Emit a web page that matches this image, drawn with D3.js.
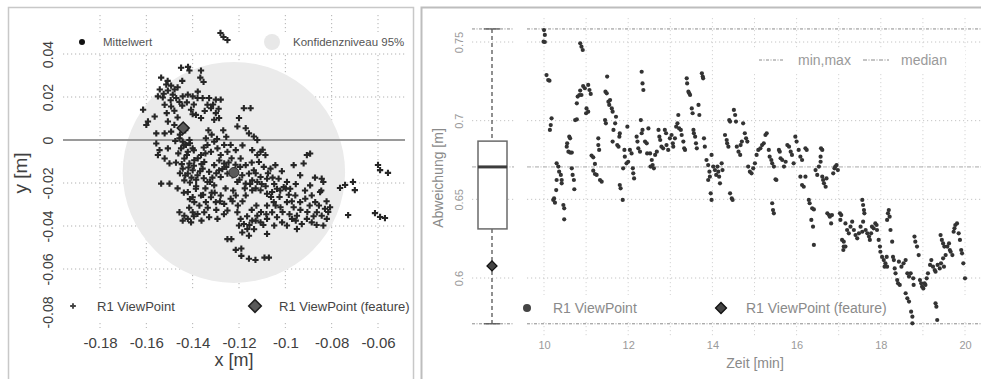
<!DOCTYPE html>
<html>
<head>
<meta charset="utf-8">
<script src="https://cdn.jsdelivr.net/npm/d3@7"></script>
<style>
  body { margin: 0; background: #fff; }
  svg { font-family: "Liberation Sans", Arial, sans-serif; }
</style>
</head>
<body>
<svg id="chart" width="981" height="379"></svg>
<script>
// ---- left panel data (x/y deviation in m) ----
const xTicksLeft = [-0.18, -0.16, -0.14, -0.12, -0.10, -0.08, -0.06];
const xLabelsLeft = ['-0.18', '-0.16', '-0.14', '-0.12', '-0.1', '-0.08', '-0.06'];
const yTicksLeft = [0.04, 0.02, 0, -0.02, -0.04, -0.06, -0.08];
const yLabelsLeft = ['0.04', '0.02', '0', '-0.02', '-0.04', '-0.06', '-0.08'];

const meanPoint = [-0.1222, -0.0151];
const ciRadius = [0.048, 0.0514]; // 95% confidence, x and y
const featurePoint = [-0.1441, 0.0056];

const viewPoints = [
  [-0.145, 0.0336], [-0.142, 0.034], [-0.1414, 0.0323], [-0.1364, 0.0323], [-0.1367, 0.029], [-0.1353, 0.027],
  [-0.1536, 0.029], [-0.1514, 0.0258], [-0.1493, 0.0253], [-0.155, 0.0203], [-0.1529, 0.0198],
  [-0.1507, 0.023], [-0.1486, 0.0211], [-0.1471, 0.0195], [-0.1521, 0.0164], [-0.1493, 0.0156], [-0.1479, 0.0136], [-0.1457, 0.0177],
  [-0.1443, 0.0203], [-0.1421, 0.0211], [-0.14, 0.0203], [-0.1379, 0.0195], [-0.1357, 0.0195], [-0.1329, 0.0195], [-0.13, 0.0188], [-0.1279, 0.0188],
  [-0.1407, 0.0141], [-0.1386, 0.0117], [-0.1364, 0.0102], [-0.14, 0.012],
  [-0.1336, 0.0164], [-0.1321, 0.0148], [-0.13, 0.0125], [-0.1286, 0.0102], [-0.1307, 0.0094],
  [-0.1614, 0.0141], [-0.1593, 0.0086], [-0.16, 0.007], [-0.1557, 0.0031], [-0.1564, 0.0109],
  [-0.1507, 0.0086], [-0.1479, 0.007], [-0.1493, 0.0039], [-0.1521, 0.0031],
  [-0.1179, 0.0148], [-0.115, 0.0148],
  [-0.12, 0.0102], [-0.1207, 0.0063], [-0.1171, 0.0055], [-0.1157, 0.0031], [-0.1136, 0.0016], [-0.1121, 0],
  [-0.1465, 0.0245], [-0.1445, 0.016], [-0.1425, 0.0175], [-0.1395, 0.0165], [-0.1348, 0.0135], [-0.1512, 0.0125],
  [-0.1465, 0.0105], [-0.1525, 0.0215], [-0.1495, 0.0185],
  [-0.1557, -0.0016], [-0.1543, -0.0047], [-0.155, -0.007], [-0.1507, -0.0039], [-0.15, -0.0109], [-0.1521, -0.0086],
  [-0.1457, 0.0008], [-0.1443, -0.0008], [-0.1429, -0.0023], [-0.1414, 0], [-0.145, -0.0039], [-0.1421, -0.0055], [-0.14, -0.0039],
  [-0.1436, -0.0086], [-0.1414, -0.0109], [-0.1393, -0.0094], [-0.1443, -0.0133], [-0.1421, -0.0156], [-0.14, -0.0141], [-0.1436, -0.0188], [-0.1379, -0.0164],
  [-0.1364, -0.007], [-0.135, -0.0102], [-0.1336, -0.0023], [-0.1321, -0.0055], [-0.1343, 0.0008], [-0.1307, -0.0008], [-0.1293, -0.0039],
  [-0.1279, -0.007], [-0.1264, -0.0023], [-0.125, -0.0055], [-0.1236, -0.0023], [-0.1214, -0.0047],
  [-0.1357, -0.0133], [-0.1329, -0.0148], [-0.1307, -0.0117], [-0.1286, -0.0141], [-0.1264, -0.0109], [-0.125, -0.0156], [-0.1279, -0.0172],
  [-0.1336, -0.0195], [-0.1307, -0.0211], [-0.1536, -0.0203], [-0.15, -0.0203],
  [-0.1438, -0.0025], [-0.1425, -0.007], [-0.1395, -0.012], [-0.1405, -0.0175], [-0.1368, -0.0145], [-0.1345, -0.0062], [-0.1285, -0.0095],
  [-0.1255, -0.0125], [-0.1232, -0.0085], [-0.1315, -0.0175], [-0.1462, -0.0062], [-0.1472, -0.0105], [-0.1455, -0.0155], [-0.1352, -0.0035],
  [-0.1228, -0.0165], [-0.1185, -0.0025],
  [-0.1143, -0.0047], [-0.1121, -0.007], [-0.1107, -0.0055], [-0.1086, -0.007], [-0.1114, -0.0102], [-0.1093, -0.0125], [-0.1064, -0.0133], [-0.1043, -0.0117],
  [-0.1193, -0.0086], [-0.1171, -0.0117], [-0.1186, -0.0164], [-0.1157, -0.0156], [-0.1136, -0.0141], [-0.1207, -0.0195], [-0.1171, -0.0203],
  [-0.1143, -0.0188], [-0.1121, -0.0195], [-0.1107, -0.0172], [-0.1079, -0.018],
  [-0.1029, -0.018], [-0.0993, -0.0195], [-0.1007, -0.0219], [-0.0979, -0.0227], [-0.1036, -0.0227], [-0.1057, -0.0242], [-0.1079, -0.025],
  [-0.1107, -0.0234], [-0.1143, -0.0234], [-0.1171, -0.0258],
  [-0.0964, -0.0117], [-0.0921, -0.0109], [-0.0907, -0.007], [-0.0893, -0.0063], [-0.0936, -0.0164],
  [-0.0957, -0.0258], [-0.0936, -0.0289], [-0.0914, -0.0273], [-0.0893, -0.0211], [-0.0886, -0.0258], [-0.0871, -0.0289],
  [-0.0843, -0.018], [-0.0836, -0.0195], [-0.085, -0.0242],
  [-0.1128, -0.0155], [-0.1085, -0.0215], [-0.1055, -0.0175], [-0.1015, -0.0145], [-0.0985, -0.0255], [-0.1025, -0.0265],
  [-0.0955, -0.0205], [-0.0915, -0.0235], [-0.0872, -0.0175], [-0.1195, -0.0125], [-0.1145, -0.0105], [-0.1098, -0.0045],
  [-0.1457, -0.0336], [-0.1436, -0.0352], [-0.1421, -0.0367], [-0.1407, -0.0383], [-0.1443, -0.0375], [-0.14, -0.0336], [-0.1379, -0.0344],
  [-0.135, -0.0336], [-0.1329, -0.0359], [-0.1293, -0.0367], [-0.125, -0.0328],
  [-0.1421, -0.0242], [-0.14, -0.0266], [-0.1386, -0.0227], [-0.1364, -0.0258], [-0.1343, -0.0289], [-0.1321, -0.0266], [-0.13, -0.0289],
  [-0.1279, -0.0258], [-0.1264, -0.0297], [-0.1236, -0.0273], [-0.1214, -0.0258], [-0.1393, -0.0289], [-0.1371, -0.0305],
  [-0.1385, -0.0215], [-0.1345, -0.0225], [-0.1305, -0.0245], [-0.1258, -0.0225], [-0.1225, -0.0235], [-0.1415, -0.0315],
  [-0.1298, -0.0325], [-0.1265, -0.0345], [-0.1335, -0.0315],
  [-0.1207, -0.0336], [-0.1193, -0.0367], [-0.12, -0.0398], [-0.1179, -0.0391], [-0.1164, -0.0414], [-0.1186, -0.043], [-0.1143, -0.0375],
  [-0.1121, -0.0352], [-0.1107, -0.0383], [-0.1079, -0.0367], [-0.1057, -0.0336], [-0.1036, -0.0359], [-0.1014, -0.0383], [-0.0993, -0.0398],
  [-0.0971, -0.0367], [-0.095, -0.0352], [-0.0929, -0.0391], [-0.0907, -0.0367], [-0.0886, -0.0383], [-0.0864, -0.0336], [-0.0843, -0.0352],
  [-0.0829, -0.032], [-0.0807, -0.0313], [-0.0821, -0.0367], [-0.0836, -0.0398],
  [-0.1079, -0.0305], [-0.105, -0.0289], [-0.1021, -0.0313], [-0.0993, -0.0289], [-0.0964, -0.0313],
  [-0.095, -0.0414], [-0.1079, -0.0437], [-0.1157, -0.0445],
  [-0.1165, -0.0355], [-0.1135, -0.0415], [-0.1095, -0.0395], [-0.1048, -0.0398], [-0.0955, -0.0375], [-0.0905, -0.0335],
  [-0.0865, -0.0395], [-0.0815, -0.0335], [-0.1125, -0.0305], [-0.1185, -0.0285], [-0.1145, -0.0325],
  [-0.1475, -0.0005], [-0.1455, 0.0025], [-0.1432, 0.0045], [-0.1412, -0.0015], [-0.1395, -0.0048], [-0.1378, -0.0085],
  [-0.1362, -0.0112], [-0.1418, -0.0128], [-0.1447, -0.0112], [-0.1432, -0.0165], [-0.1412, -0.0198], [-0.1385, -0.0185],
  [-0.1352, -0.0178], [-0.1325, -0.0195], [-0.1298, -0.0155], [-0.1272, -0.0135], [-0.1245, -0.0105], [-0.1215, -0.0115],
  [-0.1198, -0.0185], [-0.1175, -0.0225], [-0.1152, -0.0205], [-0.1128, -0.0225], [-0.1102, -0.0205], [-0.1075, -0.0155],
  [-0.1048, -0.0205], [-0.1022, -0.0235], [-0.0998, -0.0225], [-0.1062, -0.0265], [-0.1042, -0.0305], [-0.1012, -0.0335],
  [-0.0982, -0.0345], [-0.0972, -0.0285], [-0.0935, -0.0325], [-0.0895, -0.0305], [-0.0878, -0.0355], [-0.0855, -0.0305],
  [-0.0822, -0.0285], [-0.0845, -0.0235], [-0.1105, -0.0335], [-0.1082, -0.0345], [-0.1155, -0.0395], [-0.1128, -0.0375],
  [-0.1205, -0.0305], [-0.1228, -0.0285], [-0.1282, -0.0285], [-0.1318, -0.0245], [-0.1355, -0.0255], [-0.1412, -0.0275],
  [-0.1395, -0.0355], [-0.1362, -0.0375], [-0.1438, -0.0245], [-0.1465, -0.0225], [-0.1332, 0.0045], [-0.1318, 0.0025],
  [-0.1295, 0.0005], [-0.1268, 0.0045], [-0.1255, 0.0015], [-0.1312, 0.0165], [-0.1288, 0.0145], [-0.1378, 0.0225],
  [-0.1445, 0.0275], [-0.1508, 0.0275], [-0.1542, 0.0235], [-0.1478, 0.0235],
  [-0.125, -0.0461], [-0.1233, -0.0461], [-0.1214, -0.0511], [-0.119, -0.0505], [-0.119, -0.0539], [-0.1157, -0.0552],
  [-0.1129, -0.0558], [-0.109, -0.0547], [-0.1071, -0.0547],
  [-0.06, -0.0116], [-0.0591, -0.014], [-0.0557, -0.0153], [-0.0613, -0.034], [-0.0591, -0.0358], [-0.057, -0.0363],
  [-0.0729, -0.0349], [-0.0764, -0.0223], [-0.0742, -0.0209], [-0.0708, -0.0195], [-0.07, -0.0233],
  [-0.128, 0.0498], [-0.1267, 0.0479], [-0.125, 0.0465]
];

// ---- right panel data (deviation over time) ----
const xTicksRight = [10, 12, 14, 16, 18, 20];
const xGridRight = [10, 11, 12, 13, 14, 15, 16, 17, 18, 19, 20];
const yTicksRight = [0.75, 0.7, 0.65, 0.6];
const yLabelsRight = ['0.75', '0.7', '0.65', '0.6'];
const boxStats = [0.5709, 0.6312, 0.6706, 0.687, 0.7583]; // min, q1, median, q3, max
const featureValue = 0.6077;

const zeitPoints = [
  [10.0, 0.7576], [10.02, 0.7545], [9.99, 0.7502], [10.02, 0.75],
  [10.06, 0.729], [10.1, 0.7258], [10.13, 0.7254], [10.18, 0.7015], [10.16, 0.6972], [10.14, 0.6941],
  [10.3, 0.6729], [10.34, 0.6708], [10.36, 0.6676], [10.4, 0.6655], [10.42, 0.6623], [10.3, 0.6623], [10.42, 0.6602],
  [10.22, 0.6496], [10.26, 0.6479], [10.24, 0.6506], [10.29, 0.6559], [10.46, 0.6464], [10.48, 0.6443], [10.48, 0.6373],
  [10.54, 0.6835], [10.58, 0.6803], [10.62, 0.6797], [10.66, 0.6797], [10.55, 0.6856], [10.6, 0.6898], [10.62, 0.6888],
  [10.66, 0.6697], [10.68, 0.6655], [10.71, 0.6623], [10.72, 0.6564], [10.74, 0.7004], [10.78, 0.7008],
  [10.78, 0.711], [10.8, 0.7153], [10.84, 0.7163], [10.86, 0.7191], [10.93, 0.722], [10.97, 0.7206], [10.89, 0.7163],
  [11.05, 0.7227], [11.08, 0.7195], [11.11, 0.717], [10.86, 0.7492], [10.89, 0.747], [10.92, 0.7449],
  [11.01, 0.7078], [11.0, 0.7047], [11.05, 0.7057],
  [11.13, 0.6778], [11.17, 0.6767], [11.21, 0.6725], [11.17, 0.6682], [11.21, 0.6661], [11.25, 0.6655], [11.33, 0.6623], [11.37, 0.6612],
  [11.29, 0.6888], [11.29, 0.6845], [11.31, 0.6814],
  [11.45, 0.7004], [11.47, 0.6983], [11.5, 0.728], [11.46, 0.7184], [11.49, 0.7174],
  [11.53, 0.7121], [11.55, 0.71], [11.57, 0.7131], [11.61, 0.7078], [11.63, 0.7057],
  [11.65, 0.6941], [11.69, 0.6983], [11.71, 0.7025], [11.63, 0.6867],
  [11.74, 0.6845], [11.77, 0.6835], [11.79, 0.6898], [11.8, 0.6919], [11.8, 0.6591], [11.82, 0.657], [11.87, 0.6496],
  [11.88, 0.6697], [11.92, 0.6771], [11.96, 0.6729], [11.91, 0.6814], [11.98, 0.6962],
  [12.0, 0.6739], [12.04, 0.6814], [12.08, 0.6792], [12.11, 0.6697], [12.12, 0.6665], [12.14, 0.6633],
  [12.2, 0.6898], [12.22, 0.6867], [12.24, 0.6824], [12.28, 0.6803],
  [12.32, 0.7311], [12.34, 0.7237], [12.36, 0.7195], [12.3, 0.7004], [12.34, 0.6941], [12.32, 0.692],
  [12.4, 0.6867], [12.44, 0.6856], [12.45, 0.6792], [12.48, 0.6951],
  [12.52, 0.6792], [12.56, 0.675], [12.58, 0.6718], [12.61, 0.6697], [12.53, 0.6708],
  [12.64, 0.6782], [12.68, 0.6803], [12.72, 0.6941], [12.74, 0.6898], [12.76, 0.6877],
  [12.79, 0.6835], [12.83, 0.6824], [12.87, 0.6941], [12.9, 0.692], [12.91, 0.6845],
  [12.95, 0.6814], [12.99, 0.6888], [13.03, 0.6909], [13.06, 0.6856], [13.07, 0.6835],
  [13.11, 0.6888], [13.14, 0.6962], [13.17, 0.6983], [13.19, 0.7036], [13.21, 0.6951], [13.25, 0.6941],
  [13.27, 0.6909], [13.31, 0.6867], [13.33, 0.6824], [13.35, 0.6814],
  [13.39, 0.7269], [13.4, 0.7237], [13.43, 0.7184], [13.45, 0.7174], [13.47, 0.7163],
  [13.51, 0.7078], [13.53, 0.7047], [13.55, 0.6941], [13.56, 0.692],
  [13.59, 0.6898], [13.61, 0.6856], [13.63, 0.6824], [13.67, 0.71], [13.69, 0.7036],
  [13.75, 0.7301], [13.77, 0.728], [13.78, 0.7269], [13.8, 0.6888], [13.82, 0.6835],
  [13.86, 0.675], [13.9, 0.6718], [13.93, 0.6676], [13.94, 0.6644], [13.9, 0.6623], [13.96, 0.6538], [13.98, 0.6496],
  [13.98, 0.6782], [14.02, 0.6708], [14.06, 0.6686], [14.09, 0.6655], [14.12, 0.6708], [14.14, 0.6676], [14.16, 0.6644], [14.18, 0.6602],
  [14.22, 0.6729], [14.24, 0.6686],
  [14.3, 0.6909], [14.34, 0.6877], [14.35, 0.6856], [14.38, 0.6835], [14.4, 0.7004], [14.42, 0.6994],
  [14.42, 0.6538], [14.46, 0.6506], [14.48, 0.6496],
  [14.51, 0.7068], [14.54, 0.7036], [14.56, 0.6994], [14.58, 0.6835], [14.62, 0.6803], [14.66, 0.6782], [14.67, 0.6845], [14.7, 0.6867],
  [14.73, 0.6983], [14.77, 0.692], [14.8, 0.6888], [14.83, 0.6867],
  [14.85, 0.6708], [14.89, 0.6676], [14.93, 0.6665], [14.97, 0.6697], [15.01, 0.6729], [15.05, 0.6782], [15.09, 0.6814],
  [15.14, 0.6824], [15.18, 0.6845], [15.22, 0.6856], [15.26, 0.6909], [15.29, 0.692],
  [15.34, 0.6814], [15.36, 0.6771], [15.4, 0.675], [15.42, 0.6729], [15.46, 0.6708], [15.5, 0.6627], [15.52, 0.6623],
  [15.42, 0.6475], [15.44, 0.6432], [15.46, 0.6411],
  [15.58, 0.6814], [15.6, 0.6803], [15.62, 0.6761], [15.66, 0.675], [15.7, 0.6708], [15.74, 0.6739], [15.78, 0.6845], [15.82, 0.6835], [15.86, 0.6803],
  [15.89, 0.6782], [15.93, 0.6729], [15.97, 0.6898], [16.0, 0.6867], [16.05, 0.6814], [16.09, 0.6771], [16.13, 0.675],
  [16.09, 0.6644], [16.13, 0.6591], [16.17, 0.658], [16.21, 0.6644], [16.21, 0.6824], [16.24, 0.6814],
  [16.29, 0.6496], [16.31, 0.6475], [16.37, 0.6443], [16.41, 0.6436], [16.35, 0.6369], [16.39, 0.6326], [16.41, 0.621],
  [16.45, 0.6686], [16.49, 0.6655], [16.53, 0.6708], [16.57, 0.6739], [16.58, 0.6824], [16.61, 0.6814], [16.57, 0.6771],
  [16.61, 0.6644], [16.63, 0.6623], [16.65, 0.6602], [16.69, 0.658], [16.71, 0.6633],
  [16.73, 0.6411], [16.77, 0.64], [16.79, 0.639], [16.82, 0.6347], [16.84, 0.64],
  [16.87, 0.6665], [16.9, 0.6697], [16.92, 0.6708], [16.95, 0.6718], [16.98, 0.6686],
  [17.03, 0.6411], [17.06, 0.64], [17.04, 0.6369],
  [17.08, 0.6242], [17.12, 0.6231], [17.12, 0.62], [17.16, 0.62], [17.11, 0.6178],
  [17.16, 0.6347], [17.2, 0.6305], [17.24, 0.6284], [17.28, 0.6326], [17.32, 0.6358],
  [17.36, 0.6305], [17.4, 0.6273], [17.44, 0.6252], [17.48, 0.6284], [17.52, 0.6326], [17.56, 0.6294], [17.58, 0.6358],
  [17.56, 0.6496], [17.58, 0.6464], [17.6, 0.6432], [17.61, 0.6411],
  [17.64, 0.6305], [17.68, 0.6284], [17.72, 0.6263], [17.74, 0.6242], [17.77, 0.6284], [17.79, 0.6326], [17.83, 0.6316], [17.87, 0.6347], [17.9, 0.6337],
  [17.91, 0.6305], [17.95, 0.6242], [17.98, 0.62], [17.99, 0.6167],
  [18.03, 0.6134], [18.07, 0.6114], [18.09, 0.6072], [18.11, 0.6093], [18.14, 0.6134], [18.15, 0.6072],
  [18.15, 0.6369], [18.17, 0.6411], [18.19, 0.6432], [18.21, 0.639], [18.23, 0.6305], [18.27, 0.6231],
  [18.29, 0.6134], [18.31, 0.6114], [18.33, 0.6061], [18.35, 0.603], [18.39, 0.5987], [18.41, 0.5966], [18.45, 0.5956],
  [18.43, 0.6104], [18.49, 0.6072], [18.54, 0.6093], [18.59, 0.6114], [18.63, 0.603], [18.67, 0.6009],
  [18.59, 0.5903], [18.63, 0.5871], [18.67, 0.585], [18.72, 0.5786], [18.75, 0.5754], [18.75, 0.5712],
  [18.71, 0.603], [18.77, 0.5998], [18.78, 0.5956],
  [18.8, 0.6263], [18.82, 0.6231], [18.86, 0.62], [18.9, 0.6146],
  [18.93, 0.5987], [18.96, 0.5966], [18.98, 0.5945], [19.01, 0.5934], [19.04, 0.5966], [19.06, 0.5956], [19.09, 0.5998],
  [19.12, 0.603], [19.17, 0.6083], [19.2, 0.6114], [19.24, 0.6072], [19.28, 0.6051], [19.3, 0.604],
  [19.3, 0.5839], [19.32, 0.5818], [19.34, 0.5733],
  [19.35, 0.6083], [19.4, 0.6061], [19.43, 0.6093], [19.48, 0.6125], [19.5, 0.6072], [19.54, 0.6146],
  [19.42, 0.6273], [19.45, 0.6242], [19.48, 0.622], [19.51, 0.62],
  [19.58, 0.62], [19.62, 0.622], [19.64, 0.6178], [19.66, 0.6167], [19.7, 0.6146],
  [19.73, 0.6294], [19.75, 0.6316], [19.77, 0.6337], [19.81, 0.6347], [19.85, 0.6284], [19.88, 0.6242],
  [19.91, 0.6178], [19.93, 0.6157], [19.96, 0.6093], [20.0, 0.5998]
];

const svg = d3.select('#chart');
const dotted = '1.2,2.8';

// panel frames
svg.append('rect').attr('x', 8.5).attr('y', 7.5).attr('width', 405).attr('height', 385)
  .attr('fill', 'none').attr('stroke', '#c8c8c8').attr('stroke-width', 1.5);
svg.append('rect').attr('x', 421.5).attr('y', 7.5).attr('width', 580).attr('height', 385)
  .attr('fill', 'none').attr('stroke', '#bdbdbd').attr('stroke-width', 2);

// ================= LEFT PANEL =================
const lx = d3.scaleLinear().domain([-0.18, -0.06]).range([100, 378]);
const ly = d3.scaleLinear().domain([0.04, -0.08]).range([54, 312]);
const L = svg.append('g');
const lLeft = 63, lRight = 405, lTop = 15, lBottom = 328;

L.selectAll('line.vgrid').data(xTicksLeft).join('line').attr('class', 'vgrid')
  .attr('x1', d => lx(d)).attr('x2', d => lx(d)).attr('y1', lTop).attr('y2', lBottom)
  .attr('stroke', '#b0b0b0').attr('stroke-dasharray', dotted);
L.selectAll('line.hgrid').data(yTicksLeft).join('line').attr('class', 'hgrid')
  .attr('x1', lLeft).attr('x2', lRight).attr('y1', d => ly(d)).attr('y2', d => ly(d))
  .attr('stroke', '#b0b0b0').attr('stroke-dasharray', dotted);

// legend backgrounds
L.append('rect').attr('x', lLeft).attr('y', 32).attr('width', lRight - lLeft).attr('height', 21).attr('fill', '#fff');
L.append('rect').attr('x', lLeft).attr('y', 289).attr('width', lRight - lLeft).attr('height', 32).attr('fill', '#fff');

// confidence region
L.append('ellipse')
  .attr('cx', lx(meanPoint[0])).attr('cy', ly(meanPoint[1]))
  .attr('rx', lx(meanPoint[0] + ciRadius[0]) - lx(meanPoint[0]))
  .attr('ry', ly(meanPoint[1] - ciRadius[1]) - ly(meanPoint[1]))
  .attr('fill', '#ebebeb');

// zero line
L.append('line').attr('x1', lLeft).attr('x2', lRight).attr('y1', ly(0)).attr('y2', ly(0))
  .attr('stroke', '#9a9a9a').attr('stroke-width', 2.2);

const cross = d3.symbol().type(d3.symbolCross).size(22);
L.selectAll('path.pt').data(viewPoints).join('path').attr('class', 'pt')
  .attr('d', cross)
  .attr('transform', d => `translate(${lx(d[0])},${ly(d[1])})`)
  .attr('fill', '#262626');

// mean
L.append('circle').attr('cx', lx(meanPoint[0])).attr('cy', ly(meanPoint[1])).attr('r', 5)
  .attr('fill', '#5a5a5a').attr('stroke', '#2a2a2a').attr('stroke-width', 1);
// feature
const diamond = d3.symbol().type(d3.symbolSquare);
L.append('path').attr('d', diamond.size(72)())
  .attr('transform', `translate(${lx(featurePoint[0])},${ly(featurePoint[1])}) rotate(45)`)
  .attr('fill', '#5a5a5a').attr('stroke', '#1f1f1f').attr('stroke-width', 1.5);

// axes
L.append('g').attr('transform', `translate(0,330)`)
  .call(d3.axisBottom(lx).tickValues(xTicksLeft).tickSize(0).tickPadding(7).tickFormat((d, i) => xLabelsLeft[i]))
  .call(g => g.select('.domain').remove())
  .attr('font-family', null).attr('font-size', 15).attr('color', '#404040');
L.append('g').attr('transform', `translate(${lLeft},0)`)
  .call(d3.axisLeft(ly).tickValues(yTicksLeft).tickSize(0).tickFormat((d, i) => yLabelsLeft[i]))
  .call(g => g.select('.domain').remove())
  .call(g => g.selectAll('text').attr('transform', 'rotate(-90)').attr('x', 0).attr('y', -10)
    .attr('dy', 0).attr('text-anchor', 'middle'))
  .attr('font-family', null).attr('font-size', 14).attr('color', '#404040');

L.append('text').attr('x', 234).attr('y', 366).attr('text-anchor', 'middle')
  .attr('font-size', 18).attr('fill', '#404040').text('x [m]');
L.append('text').attr('transform', 'translate(27,173) rotate(-90)').attr('text-anchor', 'middle')
  .attr('font-size', 19).attr('fill', '#404040').text('y [m]');

// left legends
L.append('circle').attr('cx', 82).attr('cy', 42).attr('r', 3).attr('fill', '#111');
L.append('text').attr('x', 103).attr('y', 46).attr('font-size', 11.5).attr('fill', '#555').text('Mittelwert');
L.append('circle').attr('cx', 272).attr('cy', 42).attr('r', 8).attr('fill', '#e8e8e8');
L.append('text').attr('x', 293).attr('y', 46).attr('font-size', 11.5).attr('fill', '#555').text('Konfidenzniveau 95%');

L.append('path').attr('d', d3.symbol().type(d3.symbolCross).size(18)())
  .attr('transform', 'translate(73,306)').attr('fill', '#444');
L.append('text').attr('x', 97).attr('y', 311).attr('font-size', 13).attr('fill', '#444').text('R1 ViewPoint');
L.append('path').attr('d', diamond.size(80)())
  .attr('transform', 'translate(255,306) rotate(45)')
  .attr('fill', '#5a5a5a').attr('stroke', '#1f1f1f').attr('stroke-width', 1.5);
L.append('text').attr('x', 279).attr('y', 311).attr('font-size', 13).attr('fill', '#444').text('R1 ViewPoint (feature)');

// ================= RIGHT PANEL =================
const rx = d3.scaleLinear().domain([10, 20]).range([544, 965]);
const ry = d3.scaleLinear().domain([0.75, 0.6]).range([42, 278]);
const R = svg.append('g');
const sLeft = 527, sRight = 981, sTop = 18, sBottom = 337;
const bLeft = 472, bRight = 514, bx = 492;

R.selectAll('line.vgrid').data(xGridRight).join('line').attr('class', 'vgrid')
  .attr('x1', d => rx(d)).attr('x2', d => rx(d)).attr('y1', sTop).attr('y2', sBottom)
  .attr('stroke', '#d4d4d4').attr('stroke-dasharray', dotted);
[[sLeft, sRight], [bLeft, bRight]].forEach(([a, b]) => {
  R.append('g').selectAll('line').data(yTicksRight).join('line')
    .attr('x1', a).attr('x2', b).attr('y1', d => ry(d)).attr('y2', d => ry(d))
    .attr('stroke', '#c4c4c4').attr('stroke-dasharray', dotted);
});

// legend backgrounds
R.append('rect').attr('x', 740).attr('y', 48).attr('width', 225).attr('height', 25).attr('fill', '#fff');
R.append('rect').attr('x', sLeft).attr('y', 295).attr('width', sRight - sLeft).attr('height', 26).attr('fill', '#fff');

// min, max, median reference lines
const refLines = [
  { v: boxStats[4], dash: '3,1.5,1,1.5', c: '#8c8c8c' },
  { v: boxStats[0], dash: '3,1.5,1,1.5', c: '#8c8c8c' },
  { v: boxStats[2], dash: '4,1.5,1,1.5', c: '#a8a8a8' }
];
[[sLeft, sRight], [bLeft, bRight]].forEach(([a, b]) => {
  R.append('g').selectAll('line').data(refLines).join('line')
    .attr('x1', a).attr('x2', b).attr('y1', d => ry(d.v)).attr('y2', d => ry(d.v))
    .attr('stroke', d => d.c).attr('stroke-width', 1).attr('stroke-dasharray', d => d.dash);
});

// boxplot
R.append('line').attr('x1', bx).attr('x2', bx).attr('y1', ry(boxStats[4])).attr('y2', ry(boxStats[3]))
  .attr('stroke', '#555').attr('stroke-width', 1.3).attr('stroke-dasharray', '4,3');
R.append('line').attr('x1', bx).attr('x2', bx).attr('y1', ry(boxStats[1])).attr('y2', ry(boxStats[0]))
  .attr('stroke', '#555').attr('stroke-width', 1.3).attr('stroke-dasharray', '4,3');
[boxStats[0], boxStats[4]].forEach(v => {
  R.append('line').attr('x1', bx - 8).attr('x2', bx + 8).attr('y1', ry(v)).attr('y2', ry(v))
    .attr('stroke', '#555').attr('stroke-width', 1.3);
});
R.append('rect').attr('x', 478).attr('y', ry(boxStats[3])).attr('width', 29)
  .attr('height', ry(boxStats[1]) - ry(boxStats[3]))
  .attr('fill', '#fff').attr('stroke', '#6a6a6a').attr('stroke-width', 1.5);
R.append('line').attr('x1', 478).attr('x2', 507).attr('y1', ry(boxStats[2])).attr('y2', ry(boxStats[2]))
  .attr('stroke', '#3c3c3c').attr('stroke-width', 3);
R.append('path').attr('d', diamond.size(50)())
  .attr('transform', `translate(${bx},${ry(featureValue)}) rotate(45)`)
  .attr('fill', '#444').attr('stroke', '#111').attr('stroke-width', 1.3);

// series
R.selectAll('circle.pt').data(zeitPoints).join('circle').attr('class', 'pt')
  .attr('cx', d => rx(d[0])).attr('cy', d => ry(d[1])).attr('r', 2.1)
  .attr('fill', '#333');

// axes
R.append('g').attr('transform', `translate(0,${sBottom})`)
  .call(d3.axisBottom(rx).tickValues(xTicksRight).tickSize(0).tickPadding(4))
  .call(g => g.select('.domain').remove())
  .attr('font-family', null).attr('font-size', 11).attr('color', '#9a9a9a');
R.append('g').attr('transform', `translate(${bLeft},0)`)
  .call(d3.axisLeft(ry).tickValues(yTicksRight).tickSize(0).tickFormat((d, i) => yLabelsRight[i]))
  .call(g => g.select('.domain').remove())
  .call(g => g.selectAll('text').attr('transform', 'rotate(-90)').attr('x', 0).attr('y', -9)
    .attr('dy', 0).attr('text-anchor', 'middle'))
  .attr('font-family', null).attr('font-size', 11).attr('color', '#9a9a9a');

R.append('text').attr('x', 755).attr('y', 368).attr('text-anchor', 'middle')
  .attr('font-size', 14).attr('fill', '#8a8a8a').text('Zeit [min]');
R.append('text').attr('transform', 'translate(443,178) rotate(-90)').attr('text-anchor', 'middle')
  .attr('font-size', 14).attr('fill', '#8a8a8a').text('Abweichung [m]');

// right legends
R.append('line').attr('x1', 759).attr('x2', 784).attr('y1', 60).attr('y2', 60)
  .attr('stroke', '#8a8a8a').attr('stroke-dasharray', '3,1.5,1,1.5');
R.append('text').attr('x', 798).attr('y', 65).attr('font-size', 14).attr('fill', '#9a9a9a').text('min,max');
R.append('line').attr('x1', 863).attr('x2', 889).attr('y1', 60).attr('y2', 60)
  .attr('stroke', '#8a8a8a').attr('stroke-dasharray', '4,1.5,1,1.5');
R.append('text').attr('x', 901).attr('y', 65).attr('font-size', 14).attr('fill', '#9a9a9a').text('median');

R.append('circle').attr('cx', 527).attr('cy', 308).attr('r', 4).attr('fill', '#444');
R.append('text').attr('x', 553).attr('y', 313).attr('font-size', 14).attr('fill', '#8a8a8a').text('R1 ViewPoint');
R.append('path').attr('d', diamond.size(60)())
  .attr('transform', 'translate(721,308) rotate(45)')
  .attr('fill', '#444').attr('stroke', '#111').attr('stroke-width', 1.3);
R.append('text').attr('x', 746).attr('y', 313).attr('font-size', 14).attr('fill', '#8a8a8a').text('R1 ViewPoint (feature)');
</script>
</body>
</html>
